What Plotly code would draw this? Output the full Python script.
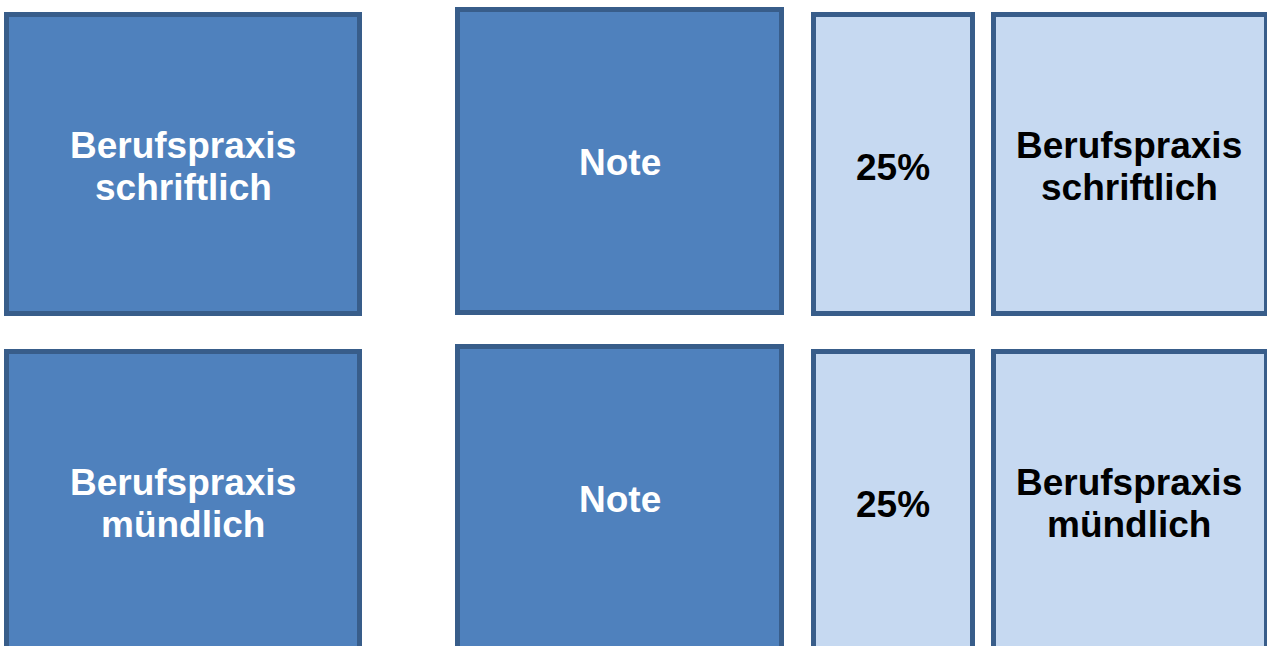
import plotly.graph_objects as go

# Data: box labels per row (left block, note block, weight, right block)
left_labels = [["Berufspraxis", "schriftlich"], ["Berufspraxis", "mündlich"]]
note_labels = ["Note", "Note"]
weight_labels = ["25%", "25%"]
right_labels = [["Berufspraxis", "schriftlich"], ["Berufspraxis", "mündlich"]]

W, H = 1267, 646
DARK_FILL = "#4F81BD"
LIGHT_FILL = "#C6D9F1"
BORDER = "#385D8A"
BW = 5
FS = 37
FONT = "Arial, Liberation Sans, sans-serif"

row_offset = 337
# outer box edges (x0, x1, y0, y1) for row 1
cols = {
    "left": (4, 362, 12, 316, DARK_FILL),
    "note": (455, 784, 7, 315, DARK_FILL),
    "weight": (811, 975, 12, 316, LIGHT_FILL),
    "right": (991, 1269, 12, 316, LIGHT_FILL),
}

fig = go.Figure()
shapes = []
annotations = []

def add_box(x0, x1, y0, y1, fill):
    h = BW / 2
    shapes.append(dict(type="rect", xref="x", yref="y",
                       x0=x0 + h, x1=x1 - h, y0=y0 + h, y1=y1 - h,
                       fillcolor=fill, line=dict(color=BORDER, width=BW),
                       layer="below"))

def add_text(x, y, text, color):
    annotations.append(dict(x=x, y=y, xref="x", yref="y", text=f"<b>{text}</b>",
                            showarrow=False, xanchor="center", yanchor="middle",
                            font=dict(family=FONT, size=FS, color=color)))

for r in range(2):
    dy = r * row_offset
    for key, (x0, x1, y0, y1, fill) in cols.items():
        add_box(x0, x1, y0 + dy, y1 + dy, fill)
    # left block text
    cx = (4 + 362) / 2
    add_text(cx, 145 + dy, left_labels[r][0], "white")
    add_text(cx, 187 + dy, left_labels[r][1], "white")
    # note
    add_text((455 + 784) / 2, 162 + dy, note_labels[r], "white")
    # weight
    add_text((811 + 975) / 2, 167 + dy, weight_labels[r], "black")
    # right block
    cx = (991 + 1267) / 2
    add_text(cx, 145 + dy, right_labels[r][0], "black")
    add_text(cx, 187 + dy, right_labels[r][1], "black")

fig.update_layout(
    width=W, height=H,
    margin=dict(l=0, r=0, t=0, b=0),
    paper_bgcolor="white", plot_bgcolor="white",
    xaxis=dict(range=[0, W], visible=False, fixedrange=True),
    yaxis=dict(range=[H, 0], visible=False, fixedrange=True),
    shapes=shapes, annotations=annotations,
    showlegend=False,
)
fig.write_html("out.html", config={"displayModeBar": False},
               post_script="document.body.style.margin='0';document.body.style.overflow='hidden';")
